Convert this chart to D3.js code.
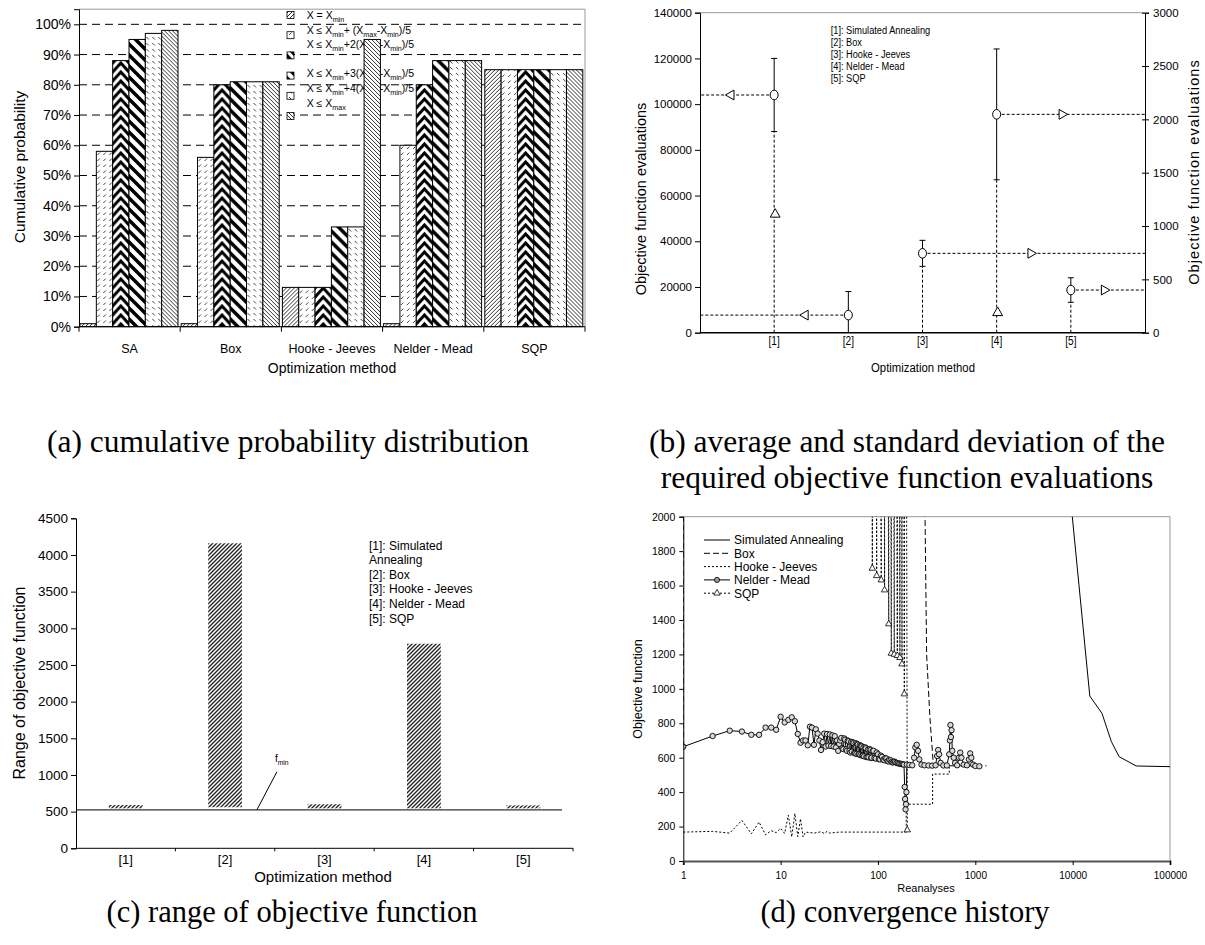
<!DOCTYPE html>
<html>
<head>
<meta charset="utf-8">
<script src="https://cdn.jsdelivr.net/npm/d3@7"></script>
<style>
  body { margin: 0; background: #fff; }
  svg { display: block; }
  text { font-family: "Liberation Sans", Arial, sans-serif; fill: #000; }
  .cap { font-family: "Liberation Serif", "Times New Roman", serif; }
</style>
</head>
<body>
<svg id="fig" width="1205" height="945"></svg>
<script>
// ---------- data: (a) cumulative probability ----------
var methods = ["SA", "Box", "Hooke - Jeeves", "Nelder - Mead", "SQP"];
var levelLabels = [
  "X = X_{min}",
  "X ≤ X_{min}+ (X_{max}-X_{min})/5",
  "X ≤ X_{min}+2(X_{max}-X_{min})/5",
  "X ≤ X_{min}+3(X_{max}-X_{min})/5",
  "X ≤ X_{min}+4(X_{max}-X_{min})/5",
  "X ≤ X_{max}"
];
var probSA = [0.01, 0.58, 0.88, 0.95, 0.97, 0.98];
var probBox = [0.01, 0.56, 0.80, 0.81, 0.81, 0.81];
var probHJ = [0.13, 0.13, 0.13, 0.33, 0.33, 0.95];
var probNM = [0.01, 0.60, 0.80, 0.88, 0.88, 0.88];
var probSQP = [0.85, 0.85, 0.85, 0.85, 0.85, 0.85];
var probTicks = [0, 0.1, 0.2, 0.3, 0.4, 0.5, 0.6, 0.7, 0.8, 0.9, 1.0];

// ---------- data: (b) objective function evaluations ----------
var evalLabels = ["[1]", "[2]", "[3]", "[4]", "[5]"];
var evalAxis = ["left", "left", "right", "right", "right"];
var evalMean = [104000, 7700, 744, 2047, 400];
var evalSd = [16000, 10300, 122, 613, 115];
var evalMin = [51800, null, null, 187, null];
var evalArrowAt = [0.42, 1.42, 4.46, 4.88, 5.45];
var methodNames = ["[1]: Simulated Annealing", "[2]: Box", "[3]: Hooke - Jeeves", "[4]: Nelder - Mead", "[5]: SQP"];

// ---------- data: (c) range of objective function ----------
var rangeMin = [545, 560, 545, 545, 545];
var rangeMax = [590, 4160, 600, 2790, 585];
var fMin = 525;

// ---------- data: (d) convergence history [reanalyses, objective] ----------
var histSA = [[1, 8000], [8000, 2540], [15000, 958], [20000, 858], [25000, 693], [30000, 606], [45000, 552], [100000, 548]];
var histBox = [[1, 664], [1.02, 8000], [290, 8000], [296, 2600], [316, 1200], [342, 830], [370, 560], [400, 553], [700, 553], [1300, 553]];
var histHJ = [[1, 168], [2, 172], [3, 162], [4, 236], [5, 158], [6, 226], [7, 152], [8, 176], [9, 165], [10, 190], [11, 160],
  [12, 266], [13, 140], [14, 276], [15, 142], [16, 245], [17, 140], [18, 168], [22, 162], [26, 170], [28, 160], [30, 172],
  [32, 162], [40, 168], [60, 168], [100, 168], [150, 168], [195, 168], [195, 330], [364, 330], [364, 505], [540, 505], [540, 545]];
var histNM = [[1, 664], [2, 726], [3, 757], [4, 752], [5, 733], [6, 733], [7, 775], [8, 775], [9, 762], [10, 838], [11, 805],
  [12, 820], [13, 835], [14, 812], [15, 738], [16, 687], [17, 700], [18, 700], [19, 672], [20, 780], [21, 775], [22, 675],
  [23, 765], [24, 740], [25, 700], [26, 645], [27, 690], [28, 740], [29, 665], [30, 738], [31, 670], [32, 735], [33, 668],
  [34, 730], [35, 665], [36, 725], [37, 660], [38, 700], [39, 640], [40, 680], [41, 700], [42, 715], [43, 655], [44, 650],
  [45, 712], [46, 705], [47, 648], [48, 640], [49, 700], [50, 695], [51, 640], [52, 630], [53, 692], [54, 635], [55, 690],
  [56, 685], [57, 628], [58, 625], [59, 684], [60, 622], [61, 680], [62, 676], [63, 620], [64, 620], [65, 672], [66, 615],
  [67, 670], [68, 665], [69, 612], [70, 612], [71, 660], [72, 608], [74, 660], [75, 655], [76, 604], [78, 605], [79, 648],
  [80, 602], [82, 650], [84, 645], [85, 598], [86, 600], [88, 638], [90, 640], [92, 598], [95, 595], [97, 630], [100, 620],
  [102, 592], [105, 590], [107, 612], [110, 605], [113, 588], [116, 585], [119, 598], [122, 595], [125, 580], [128, 578],
  [131, 588], [135, 585], [138, 575], [142, 572], [146, 578], [150, 575], [155, 570], [160, 568], [165, 566], [170, 565],
  [175, 563], [180, 562], [185, 560], [188, 430], [190, 360], [192, 300], [194, 330], [196, 400], [198, 560], [210, 558],
  [225, 556], [235, 600], [242, 660], [250, 675], [258, 640], [266, 590], [280, 560], [300, 556], [330, 555], [360, 554],
  [390, 556], [405, 610], [415, 645], [425, 620], [440, 570], [470, 555], [510, 555], [540, 620], [548, 700], [555, 790],
  [562, 720], [570, 760], [580, 640], [600, 600], [620, 570], [650, 556], [680, 600], [700, 630], [720, 600], [760, 560],
  [820, 556], [860, 590], [885, 625], [910, 600], [950, 560], [1000, 552], [1100, 550]];
var histSQP = [[85, 8000], [87.5, 1700], [88.5, 8000], [97, 1657], [98, 8000], [108, 1632], [109, 8000], [117, 1574],
  [118, 8000], [129, 1377], [130, 8000], [137, 1206], [138, 8000], [147, 1200], [148, 8000], [158, 1193], [159, 8000],
  [168, 1181], [169, 8000], [176.5, 1144], [177.5, 8000], [186.5, 970], [187.5, 8000], [200, 180]];
var histNames = ["Simulated Annealing", "Box", "Hooke - Jeeves", "Nelder - Mead", "SQP"];

var svg = d3.select("#fig");
svg.append("rect").attr("width", 1205).attr("height", 945).attr("fill", "#fff");
var defs = svg.append("defs");

//
// helpers
function rich(textSel, str, fs) {
  var down = false;
  str.split(/(_\{[^}]*\})/).filter(Boolean).forEach(function(part) {
    var sub = part.charAt(0) === "_";
    var t = textSel.append("tspan").text(sub ? part.slice(2, -1) : part);
    if (sub) {
      t.attr("font-size", fs * 0.68);
      if (!down) t.attr("dy", fs * 0.28);
      down = true;
    } else if (down) {
      t.attr("dy", -fs * 0.28);
      down = false;
    }
  });
}
function styleAxis(g, fs) {
  g.attr("font-size", fs).attr("font-family", null);
  g.selectAll("text").attr("fill", "#000");
  g.selectAll("line,path").attr("stroke", "#000");
}
// condensed text (the original used a narrow face)
function narrow(sel, x, y, fs, txt, anchor) {
  return sel.append("text").attr("transform", `translate(${x},${y}) scale(0.84,1)`)
    .attr("font-size", fs).attr("text-anchor", anchor || "start").text(txt);
}
function pattern(id, w, h, draw) {
  var p = defs.append("pattern").attr("id", id)
    .attr("patternUnits", "userSpaceOnUse").attr("width", w).attr("height", h);
  p.append("rect").attr("width", w).attr("height", h).attr("fill", "#fff");
  draw(p);
}

//
// fill patterns
var barW = 16.33;
pattern("p0", 4, 4, p => p.append("path").attr("d", "M-1,1L1,-1M0,4L4,0M3,5L5,3")
  .attr("stroke", "#333").attr("stroke-width", 1));
pattern("p1", 6, 6, p => p.append("path").attr("d", "M1,5L3.5,2.5")
  .attr("stroke", "#444").attr("stroke-width", 1));
pattern("p2", barW, 9, p => p.append("path")
  .attr("d", `M-2,11.2L${barW / 2},0L${barW + 2},11.2M-2,2.2L${barW / 2},-9L${barW + 2},2.2M-2,20.2L${barW / 2},9L${barW + 2},20.2`)
  .attr("stroke", "#000").attr("stroke-width", 3).attr("fill", "none"));
pattern("p3", 11, 11, p => p.append("path").attr("d", "M-3,-3L14,14M-3,8L3,14M8,-3L14,3")
  .attr("stroke", "#000").attr("stroke-width", 3.5));
pattern("p4", 6, 6, p => p.append("path").attr("d", "M1,1L3.5,3.5")
  .attr("stroke", "#444").attr("stroke-width", 1));
pattern("p5", 4, 4, p => p.append("path").attr("d", "M-1,3L1,5M0,0L4,4M3,-1L5,1")
  .attr("stroke", "#333").attr("stroke-width", 1));
pattern("pc", 4, 4, p => p.append("path").attr("d", "M-1,1L1,-1M0,4L4,0M3,5L5,3")
  .attr("stroke", "#222").attr("stroke-width", 1.3));

// =====================================================================
// (a) cumulative probability distribution
(function() {
  var g = svg.append("g");
  var cumProb = [probSA, probBox, probHJ, probNM, probSQP];
  var x = d3.scaleBand().domain(methods).range([79, 585]);
  var y = d3.scaleLinear().domain([0, 1.05]).range([326.7, 9.2]);
  var inner = d3.scaleBand().domain(d3.range(6)).range([1, 99]);

  // frame
  g.append("path").attr("d", `M79,${y(1.05)}H585V${y(0)}`).attr("fill", "none").attr("stroke", "#999");

  // dashed grid
  g.append("g").selectAll("line").data(probTicks.filter(d => d > 0)).join("line")
    .attr("x1", 79).attr("x2", 585).attr("y1", d => y(d)).attr("y2", d => y(d))
    .attr("stroke", "#000").attr("stroke-dasharray", "8,5");

  // legend (sits below the bars)
  var leg = g.append("g");
  leg.selectAll("rect").data(levelLabels).join("rect")
    .attr("x", 287).attr("y", (d, i) => 11.5 + i * 20.2).attr("width", 7).attr("height", 7)
    .attr("fill", (d, i) => `url(#p${i})`).attr("stroke", "#000").attr("stroke-width", 0.8);
  var textY = [15, 30, 44, 73, 88, 103];
  leg.selectAll("text").data(levelLabels).join("text")
    .attr("x", 306.7).attr("y", (d, i) => textY[i] + 3.6).attr("font-size", 10.5)
    .each(function(d) { rich(d3.select(this), d, 10.5); });

  // bars
  g.append("g").selectAll("g").data(methods).join("g")
    .attr("transform", m => `translate(${x(m)},0)`)
    .selectAll("g").data((m, i) => cumProb[i].map((v, k) => ({v: v, k: k}))).join("g")
    .attr("transform", d => `translate(${inner(d.k)},0)`)
    .append("rect")
    .attr("y", d => y(d.v)).attr("height", d => y(0) - y(d.v)).attr("width", inner.bandwidth())
    .attr("fill", d => `url(#p${d.k})`).attr("stroke", "#000").attr("stroke-width", 1);

  // axes
  var ya = g.append("g").attr("transform", "translate(79,0)")
    .call(d3.axisLeft(y).tickValues(probTicks).tickFormat(d3.format(".0%")).tickSize(5).tickPadding(3));
  styleAxis(ya, 14);
  g.append("line").attr("x1", 79).attr("x2", 585).attr("y1", y(0)).attr("y2", y(0)).attr("stroke", "#000");
  g.append("g").selectAll("line").data(d3.range(6)).join("line")
    .attr("x1", i => 79 + i * x.step()).attr("x2", i => 79 + i * x.step())
    .attr("y1", y(0)).attr("y2", y(0) + 5).attr("stroke", "#000");
  g.append("g").selectAll("text").data(methods).join("text")
    .attr("x", m => x(m) + x.bandwidth() / 2).attr("y", 352.5)
    .attr("text-anchor", "middle").attr("font-size", 12.5).text(m => m);
  g.append("text").attr("x", 332).attr("y", 373).attr("text-anchor", "middle")
    .attr("font-size", 14).text("Optimization method");
  g.append("text").attr("transform", "translate(25,167) rotate(-90)").attr("text-anchor", "middle")
    .attr("font-size", 15.5).text("Cumulative probability");
})();

// =====================================================================
// (b) average and standard deviation of the evaluations
(function() {
  var g = svg.append("g");
  var x = d3.scaleLinear().domain([0, 6]).range([700, 1145]);
  var yL = d3.scaleLinear().domain([0, 140000]).range([332.7, 12.7]);
  var yR = d3.scaleLinear().domain([0, 3000]).range([332.7, 12.7]);

  g.append("line").attr("x1", 700).attr("x2", 1145).attr("y1", 12.7).attr("y2", 12.7).attr("stroke", "#999");

  defs.append("clipPath").attr("id", "clipB").append("rect")
    .attr("x", 700).attr("y", 12.7).attr("width", 445).attr("height", 320);
  var plot = g.append("g").attr("clip-path", "url(#clipB)");
  var tri = d3.symbol().type(d3.symbolTriangle).size(42);

  evalMean.forEach(function(m, i) {
    var ys = evalAxis[i] === "left" ? yL : yR;
    var cx = x(i + 1), lo = m - evalSd[i], hi = m + evalSd[i];
    var edge = evalAxis[i] === "left" ? 700 : 1145;
    if (lo > 0) {
      plot.append("line").attr("x1", cx).attr("x2", cx).attr("y1", ys(0)).attr("y2", ys(lo))
        .attr("stroke", "#000").attr("stroke-dasharray", "3,2");
    }
    plot.append("line").attr("x1", cx).attr("x2", edge).attr("y1", ys(m)).attr("y2", ys(m))
      .attr("stroke", "#000").attr("stroke-dasharray", "3,2");
    plot.append("line").attr("x1", cx).attr("x2", cx).attr("y1", ys(Math.max(lo, 0))).attr("y2", ys(hi))
      .attr("stroke", "#000");
    [lo, hi].filter(v => v > 0).forEach(v => plot.append("line")
      .attr("x1", cx - 3).attr("x2", cx + 3).attr("y1", ys(v)).attr("y2", ys(v)).attr("stroke", "#000"));
    plot.append("ellipse").attr("cx", cx).attr("cy", ys(m)).attr("rx", 4).attr("ry", 4.8)
      .attr("fill", "#fff").attr("stroke", "#000");
    plot.append("path").attr("d", tri)
      .attr("transform", `translate(${x(evalArrowAt[i])},${ys(m)}) rotate(${evalAxis[i] === "left" ? -90 : 90})`)
      .attr("fill", "#fff").attr("stroke", "#000");
    if (evalMin[i] != null) {
      plot.append("path").attr("d", tri).attr("transform", `translate(${cx + 1},${ys(evalMin[i])})`)
        .attr("fill", "#fff").attr("stroke", "#000");
    }
  });

  var la = g.append("g").attr("transform", "translate(700,0)")
    .call(d3.axisLeft(yL).tickValues(d3.range(0, 140001, 20000)).tickFormat(d3.format("d")).tickSize(5).tickPadding(3));
  styleAxis(la, 11.5);
  var ra = g.append("g").attr("transform", "translate(1145,0)")
    .call(d3.axisRight(yR).tickValues(d3.range(0, 3001, 500)).tickFormat(d3.format("d")).tickSize(4).tickPadding(4));
  styleAxis(ra, 11.5);
  ra.selectAll(".tick line").attr("x1", -3);
  g.append("line").attr("x1", 700).attr("x2", 1145).attr("y1", 332.7).attr("y2", 332.7)
    .attr("stroke", "#000").attr("stroke-width", 1.5);

  evalLabels.forEach((d, i) => narrow(g, x(i + 1), 344.5, 12, d, "middle"));
  narrow(g, 923, 372, 13.5, "Optimization method", "middle");
  g.append("text").attr("transform", "translate(646,199) rotate(-90)").attr("text-anchor", "middle")
    .attr("font-size", 14.5).text("Objective function evaluations");
  g.append("text").attr("transform", "translate(1199,172) rotate(-90)").attr("text-anchor", "middle")
    .attr("font-size", 14.5).attr("letter-spacing", 1.1).text("Objective function evaluations");

  methodNames.forEach((d, i) => narrow(g, 830.7, 33.5 + i * 12, 11, d));
})();

// =====================================================================
// (c) range of objective function
(function() {
  var g = svg.append("g");
  var x = d3.scaleBand().domain(evalLabels).range([76, 573]);
  var y = d3.scaleLinear().domain([0, 4500]).range([848.3, 518.3]);
  var bw = x.bandwidth();

  g.append("g").selectAll("rect").data(evalLabels).join("rect")
    .attr("x", d => x(d) + bw * 0.33).attr("width", bw * 0.34)
    .attr("y", (d, i) => y(rangeMax[i])).attr("height", (d, i) => y(rangeMin[i]) - y(rangeMax[i]))
    .attr("fill", "url(#pc)");

  g.append("line").attr("x1", 76).attr("x2", 562).attr("y1", y(fMin)).attr("y2", y(fMin))
    .attr("stroke", "#333").attr("stroke-width", 1.2);
  var ax0 = x("[2]") + bw * 0.82;
  g.append("line").attr("x1", ax0).attr("x2", ax0 + 20).attr("y1", y(fMin)).attr("y2", y(fMin) - 38)
    .attr("stroke", "#000");
  var ft = g.append("text").attr("x", ax0 + 18).attr("y", y(fMin) - 48).attr("font-size", 10);
  rich(ft, "f_{min}", 10);

  var ya = g.append("g").attr("transform", "translate(76,0)")
    .call(d3.axisLeft(y).tickValues(d3.range(0, 4501, 500)).tickFormat(d3.format("d")).tickSize(5).tickPadding(3));
  styleAxis(ya, 13.5);
  g.append("line").attr("x1", 76).attr("x2", 573).attr("y1", y(0)).attr("y2", y(0)).attr("stroke", "#000");
  g.append("g").selectAll("line").data(d3.range(1, 6)).join("line")
    .attr("x1", i => 76 + i * x.step()).attr("x2", i => 76 + i * x.step())
    .attr("y1", y(0)).attr("y2", y(0) + 3).attr("stroke", "#000");
  g.append("g").selectAll("text").data(evalLabels).join("text")
    .attr("x", d => x(d) + bw / 2).attr("y", 864).attr("text-anchor", "middle").attr("font-size", 13).text(d => d);
  g.append("text").attr("x", 323).attr("y", 882).attr("text-anchor", "middle")
    .attr("font-size", 15).text("Optimization method");
  g.append("text").attr("transform", "translate(25,683) rotate(-90)").attr("text-anchor", "middle")
    .attr("font-size", 16).text("Range of objective function");

  var legLines = ["[1]: Simulated", "Annealing", "[2]: Box", "[3]: Hooke - Jeeves", "[4]: Nelder - Mead", "[5]: SQP"];
  g.append("g").selectAll("text").data(legLines).join("text")
    .attr("x", 369).attr("y", (d, i) => 549.5 + i * 14.6).attr("font-size", 12).text(d => d);
})();

// =====================================================================
// (d) convergence history
(function() {
  var g = svg.append("g");
  var x = d3.scaleLog().domain([1, 100000]).range([683.3, 1170]);
  var y = d3.scaleLinear().domain([0, 2000]).range([861, 516.7]);

  g.append("path").attr("d", `M683.3,516.7H1170V861`).attr("fill", "none").attr("stroke", "#999");

  defs.append("clipPath").attr("id", "clipD").append("rect")
    .attr("x", 683.3).attr("y", 516.7).attr("width", 486.7).attr("height", 344.3);
  var plot = g.append("g").attr("clip-path", "url(#clipD)");
  var line = d3.line().x(d => x(d[0])).y(d => y(d[1]));
  var styles = [
    {data: histSA, dash: null},
    {data: histBox, dash: "6,3"},
    {data: histHJ, dash: "2,2"},
    {data: histNM, dash: null},
    {data: histSQP, dash: "2,2"}
  ];
  plot.selectAll("path.series").data(styles).join("path").attr("class", "series")
    .attr("d", s => line(s.data)).attr("fill", "none").attr("stroke", "#000")
    .attr("stroke-width", 1).attr("stroke-dasharray", s => s.dash);

  plot.append("g").selectAll("circle").data(histNM).join("circle")
    .attr("cx", d => x(d[0])).attr("cy", d => y(d[1])).attr("r", 2.7)
    .attr("fill", "#d8d8d8").attr("stroke", "#000").attr("stroke-width", 0.9);
  var tri = d3.symbol().type(d3.symbolTriangle).size(18);
  plot.append("g").selectAll("path").data(histSQP.filter(d => d[1] <= 2000)).join("path")
    .attr("d", tri).attr("transform", d => `translate(${x(d[0])},${y(d[1])})`)
    .attr("fill", "#fff").attr("stroke", "#000").attr("stroke-width", 0.8);

  var ya = g.append("g").attr("transform", "translate(683.3,0)")
    .call(d3.axisLeft(y).tickValues(d3.range(0, 2001, 200)).tickFormat(d3.format("d")).tickSize(4).tickPadding(4));
  styleAxis(ya, 10.5);
  var xa = g.append("g").attr("transform", "translate(0,861)")
    .call(d3.axisBottom(x).tickValues([1, 10, 100, 1000, 10000, 100000]).tickFormat(d3.format("d")).tickSize(4).tickPadding(7));
  styleAxis(xa, 10);
  xa.select(".domain").attr("stroke", "#555").attr("stroke-width", 2);

  g.append("text").attr("x", 926).attr("y", 891.5).attr("text-anchor", "middle").attr("font-size", 11).text("Reanalyses");
  g.append("text").attr("transform", "translate(642,689) rotate(-90)").attr("text-anchor", "middle")
    .attr("font-size", 12.5).text("Objective function");

  var leg = g.append("g");
  histNames.forEach(function(n, i) {
    var ly = 540 + i * 13.3;
    leg.append("line").attr("x1", 704).attr("x2", 730).attr("y1", ly).attr("y2", ly)
      .attr("stroke", "#000").attr("stroke-dasharray", styles[i].dash);
    leg.append("text").attr("x", 734).attr("y", ly + 4.3).attr("font-size", 12).text(n);
  });
  leg.append("circle").attr("cx", 717).attr("cy", 540 + 3 * 13.3).attr("r", 2.6)
    .attr("fill", "#999").attr("stroke", "#000").attr("stroke-width", 0.8);
  leg.append("path").attr("d", tri).attr("transform", `translate(717,${540 + 4 * 13.3})`)
    .attr("fill", "#fff").attr("stroke", "#000").attr("stroke-width", 0.8);
})();

// =====================================================================
// captions
var caps = [
  {x: 288, y: 452, fs: 31.5, t: "(a) cumulative probability distribution"},
  {x: 907, y: 452, fs: 31.5, t: "(b) average and standard deviation of the"},
  {x: 907, y: 488, fs: 31.5, t: "required objective function evaluations"},
  {x: 292, y: 922, fs: 30.5, t: "(c) range of objective function"},
  {x: 905, y: 922, fs: 30.5, t: "(d) convergence history"}
];
svg.append("g").selectAll("text").data(caps).join("text").attr("class", "cap")
  .attr("x", d => d.x).attr("y", d => d.y).attr("text-anchor", "middle")
  .attr("font-size", d => d.fs).text(d => d.t);
</script>
</body>
</html>
